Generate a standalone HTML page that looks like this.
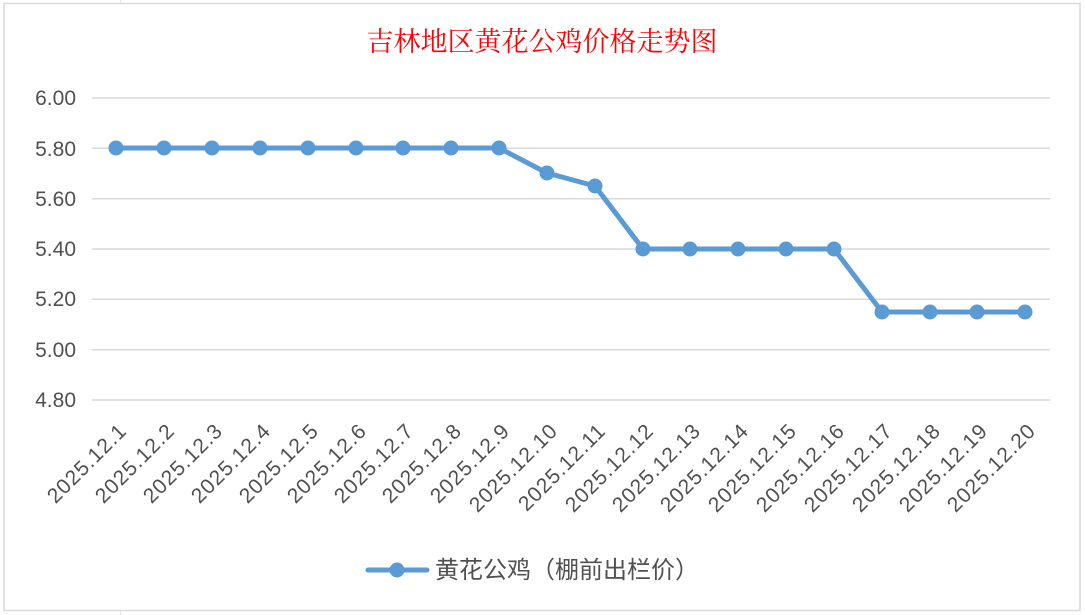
<!DOCTYPE html>
<html><head><meta charset="utf-8"><style>
html,body{margin:0;padding:0;background:#fff;}
svg{display:block}
text{font-family:"Liberation Sans","Noto Sans CJK SC",sans-serif;}
</style></head><body>
<svg width="1085" height="615" viewBox="0 0 1085 615" xmlns="http://www.w3.org/2000/svg">
<rect x="0" y="0" width="1085" height="615" fill="#fff"/>
<g stroke="#e6e6e6" stroke-width="1">
<line x1="120.5" y1="0" x2="120.5" y2="4"/><line x1="120.5" y1="611" x2="120.5" y2="615"/>
</g>
<rect x="4" y="3.5" width="1076" height="607" fill="#fff" stroke="#d9d9d9" stroke-width="1.5"/>
<text x="542" y="51" text-anchor="middle" font-size="27" fill="#ff0000" style="font-family:'Noto Serif CJK SC','Liberation Serif',serif">吉林地区黄花公鸡价格走势图</text>
<g stroke="#d9d9d9" stroke-width="1.5">
<line x1="92" y1="98" x2="1050" y2="98"/>
<line x1="92" y1="148.3" x2="1050" y2="148.3"/>
<line x1="92" y1="198.7" x2="1050" y2="198.7"/>
<line x1="92" y1="249" x2="1050" y2="249"/>
<line x1="92" y1="299.3" x2="1050" y2="299.3"/>
<line x1="92" y1="349.7" x2="1050" y2="349.7"/>
<line x1="92" y1="400" x2="1050" y2="400"/>
</g>
<g font-size="21" fill="#505050" text-anchor="end">
<text x="76" y="105">6.00</text>
<text x="76" y="156">5.80</text>
<text x="76" y="206">5.60</text>
<text x="76" y="256">5.40</text>
<text x="76" y="306">5.20</text>
<text x="76" y="357">5.00</text>
<text x="76" y="407">4.80</text>
</g>
<polyline fill="none" stroke="#5b9bd5" stroke-width="5" stroke-linejoin="round"
points="116,148 164,148 212,148 260,148 308,148 356,148 403,148 451,148 499,148 547,173 595,186 643,249 690,249 738,249 786,249 834,249 882,312 930,312 977,312 1025,312"/>
<g fill="#5b9bd5">
<circle cx="116" cy="148" r="7.5"/><circle cx="164" cy="148" r="7.5"/><circle cx="212" cy="148" r="7.5"/><circle cx="260" cy="148" r="7.5"/><circle cx="308" cy="148" r="7.5"/><circle cx="356" cy="148" r="7.5"/><circle cx="403" cy="148" r="7.5"/><circle cx="451" cy="148" r="7.5"/><circle cx="499" cy="148" r="7.5"/><circle cx="547" cy="173" r="7.5"/><circle cx="595" cy="186" r="7.5"/><circle cx="643" cy="249" r="7.5"/><circle cx="690" cy="249" r="7.5"/><circle cx="738" cy="249" r="7.5"/><circle cx="786" cy="249" r="7.5"/><circle cx="834" cy="249" r="7.5"/><circle cx="882" cy="312" r="7.5"/><circle cx="930" cy="312" r="7.5"/><circle cx="977" cy="312" r="7.5"/><circle cx="1025" cy="312" r="7.5"/>
</g>
<g font-size="21" fill="#505050" text-anchor="end" letter-spacing="1">
<text transform="translate(128,432) rotate(-45)">2025.12.1</text>
<text transform="translate(176,432) rotate(-45)">2025.12.2</text>
<text transform="translate(224,432) rotate(-45)">2025.12.3</text>
<text transform="translate(272,432) rotate(-45)">2025.12.4</text>
<text transform="translate(320,432) rotate(-45)">2025.12.5</text>
<text transform="translate(368,432) rotate(-45)">2025.12.6</text>
<text transform="translate(415,432) rotate(-45)">2025.12.7</text>
<text transform="translate(463,432) rotate(-45)">2025.12.8</text>
<text transform="translate(511,432) rotate(-45)">2025.12.9</text>
<text transform="translate(559,432) rotate(-45)">2025.12.10</text>
<text transform="translate(607,432) rotate(-45)">2025.12.11</text>
<text transform="translate(655,432) rotate(-45)">2025.12.12</text>
<text transform="translate(702,432) rotate(-45)">2025.12.13</text>
<text transform="translate(750,432) rotate(-45)">2025.12.14</text>
<text transform="translate(798,432) rotate(-45)">2025.12.15</text>
<text transform="translate(846,432) rotate(-45)">2025.12.16</text>
<text transform="translate(894,432) rotate(-45)">2025.12.17</text>
<text transform="translate(942,432) rotate(-45)">2025.12.18</text>
<text transform="translate(989,432) rotate(-45)">2025.12.19</text>
<text transform="translate(1037,432) rotate(-45)">2025.12.20</text>
</g>
<line x1="368" y1="570" x2="427" y2="570" stroke="#5b9bd5" stroke-width="5" stroke-linecap="round"/>
<circle cx="397" cy="570" r="7.5" fill="#5b9bd5"/>
<text x="435" y="578" font-size="24" fill="#505050">黄花公鸡（棚前出栏价）</text>
</svg>
</body></html>
